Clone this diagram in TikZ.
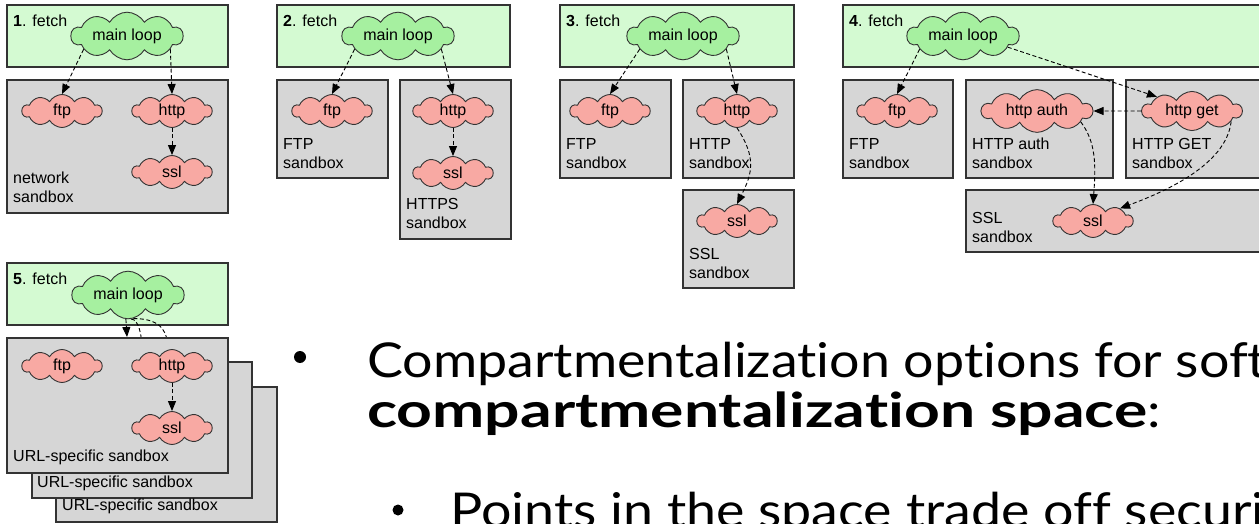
\documentclass[tikz,border=0pt]{standalone}
\usepackage{fontspec}
\setmainfont{Liberation Sans}
\newfontfamily\slidefont{Lato}[Ligatures={NoCommon,NoRare,NoContextual},FakeStretch=1.12]
\newfontfamily\slidebold{Lato}[Ligatures={NoCommon,NoRare,NoContextual},FakeStretch=1.3]
\usetikzlibrary{shapes.symbols,arrows.meta}
\definecolor{fetchgreen}{HTML}{D4FAD2}
\definecolor{loopgreen}{HTML}{A6F0A0}
\definecolor{compink}{HTML}{F8A9A3}
\definecolor{boxgray}{HTML}{D6D6D6}
\definecolor{edge}{HTML}{333333}
\begin{document}
\begin{tikzpicture}[x=1pt,y=-1pt,
  fetchbox/.style={draw=edge,fill=fetchgreen,line width=1.2pt},
  sandbox/.style={draw=edge,fill=boxgray,line width=1.2pt},
  puff/.style={cloud,cloud puffs=10,cloud puff arc=120,aspect=2.25,draw=edge,
    line width=0.9pt,inner sep=0pt,minimum width=80,minimum height=33,
    font=\fontsize{16}{19}\selectfont},
  component/.style={puff,fill=compink},
  mainloop/.style={puff,fill=loopgreen,minimum width=112,minimum height=34,aspect=3.1},
  lbl/.style={anchor=base west,align=left,inner sep=0pt,font=\fontsize{16}{19}\selectfont},
  call/.style={draw=black,line width=0.9pt,dash pattern=on 4pt off 2.5pt,
    -{Triangle[length=10pt,width=8pt]}},
  plain call/.style={draw=black,line width=0.9pt,dash pattern=on 4pt off 2.5pt},
  dot/.style={circle,fill=black,inner sep=0pt,minimum size=12},
  slide/.style={anchor=base west,inner sep=0pt,font=\slidefont\fontsize{48}{50}\selectfont}
]
\useasboundingbox (0,0) rectangle (1259,524);
\clip (0,0) rectangle (1259,524);

% ---------- 1. one network sandbox ----------
\path[fetchbox] (7,5) rectangle (228,67);
\path[sandbox] (7,80) rectangle (228,213);
\node[lbl] (f1) at (13,27) {\textbf{1}. fetch};
\node[lbl] (s1) at (13,203) {network\\sandbox};
\node[mainloop] (ml1) at (127,36) {main loop};
\node[component] (ftp1) at (62,111) {ftp};
\node[component] (http1) at (172,111) {http};
\node[component] (ssl1) at (172,172) {ssl};
\draw[call] (ml1.197) -- (ftp1.north);
\draw[call] (ml1.343) -- (http1.north);
\draw[call] (http1.south) -- (ssl1.north);

% ---------- 2. FTP and HTTPS sandboxes ----------
\path[fetchbox] (277,5) rectangle (510,67);
\path[sandbox] (277,80) rectangle (388,178);
\path[sandbox] (400,80) rectangle (511,239);
\node[lbl] (f2) at (283,27) {\textbf{2}. fetch};
\node[lbl] (s2a) at (283,168) {FTP\\sandbox};
\node[lbl] (s2b) at (406,228) {HTTPS\\sandbox};
\node[mainloop] (ml2) at (398,36) {main loop};
\node[component] (ftp2) at (332,111) {ftp};
\node[component] (http2) at (453,111) {http};
\node[component] (ssl2) at (453,173) {ssl};
\draw[call] (ml2.197) -- (ftp2.north);
\draw[call] (ml2.343) -- (http2.north);
\draw[call] (http2.south) -- (ssl2.north);

% ---------- 3. FTP, HTTP and SSL sandboxes ----------
\path[fetchbox] (560,5) rectangle (794,67);
\path[sandbox] (560,80) rectangle (671,178);
\path[sandbox] (683,80) rectangle (794,178);
\path[sandbox] (683,190) rectangle (794,288);
\node[lbl] (f3) at (566,27) {\textbf{3}. fetch};
\node[lbl] (s3a) at (566,168) {FTP\\sandbox};
\node[lbl] (s3b) at (689,168) {HTTP\\sandbox};
\node[lbl] (s3c) at (689,278) {SSL\\sandbox};
\node[mainloop] (ml3) at (683,36) {main loop};
\node[component] (ftp3) at (610,111) {ftp};
\node[component] (http3) at (737,111) {http};
\node[component] (ssl3) at (737,221) {ssl};
\draw[call] (ml3.197) -- (ftp3.north);
\draw[call] (ml3.343) -- (http3.north);
\draw[call] (http3.south) .. controls +(20,30) and +(15,-30) .. (ssl3.north);

% ---------- 4. HTTP split into auth and GET ----------
\path[fetchbox] (843,5) rectangle (1265,67);
\path[sandbox] (843,80) rectangle (953,178);
\path[sandbox] (966,80) rectangle (1113,178);
\path[sandbox] (1126,80) rectangle (1265,178);
\path[sandbox] (966,190) rectangle (1265,252);
\node[lbl] (f4) at (849,27) {\textbf{4}. fetch};
\node[lbl] (s4a) at (849,168) {FTP\\sandbox};
\node[lbl] (s4b) at (972,168) {HTTP auth\\sandbox};
\node[lbl] (s4c) at (1132,168) {HTTP GET\\sandbox};
\node[lbl] (s4d) at (972,242) {SSL\\sandbox};
\node[mainloop] (ml4) at (963,36) {main loop};
\node[component] (ftp4) at (897,111) {ftp};
\node[component,minimum width=111,aspect=3.1] (hauth) at (1037,111) {http auth};
\node[component,minimum width=100,aspect=2.8] (hget) at (1192,111) {http get};
\node[component] (ssl4) at (1093,221) {ssl};
\draw[call] (ml4.197) -- (ftp4.north);
\draw[call] (ml4.346) -- (hget.158);
\draw[call] (hget.west) -- (hauth.east);
\draw[call] (hauth.346) .. controls +(15,20) and +(3,-40) .. (ssl4.north);
\draw[call] (hget.345) .. controls +(-5,45) and +(40,-15) .. (ssl4.25);

% ---------- 5. URL-specific sandboxes ----------
\path[fetchbox] (7,263) rectangle (228,325);
\node[lbl] (f5) at (13,284) {\textbf{5}. fetch};
\node[mainloop] (ml5) at (128,295) {main loop};
\coordinate (u5a) at (127,337);
\coordinate (u5b) at (142,350);
\coordinate (u5c) at (168,350);
\draw[plain call] (ml5.277) .. controls +(8,0) and +(0,-14) .. (u5b);
\draw[plain call] (ml5.283) .. controls +(30,0) and +(0,-16) .. (u5c);
\path[sandbox] (56,387) rectangle (277,522);
\path[sandbox] (32,362) rectangle (252,498);
\path[sandbox] (7,338) rectangle (228,473);
\node[lbl] (s5c) at (62,510) {URL-specific sandbox};
\node[lbl] (s5b) at (37,487) {URL-specific sandbox};
\node[lbl] (s5a) at (13,461) {URL-specific sandbox};
\node[component] (ftp5) at (62,366) {ftp};
\node[component] (http5) at (172,366) {http};
\node[component] (ssl5) at (172,428) {ssl};
\draw[call] (ml5.265) -- (u5a);
\draw[call] (http5.south) -- (ssl5.north);

% ---------- bullet text ----------
\node[dot] (b1) at (300,357) {};
\node[slide] (t1) at (367,377) {Compartmentalization options for software};
\node[slide] (t2) at (367,427) {\slidebold\bfseries compartmentalization space\slidefont\mdseries:};
\node[dot,minimum size=11] (b2) at (398,510) {};
\node[slide] (t3) at (450,527) {Points in the space trade off security};
\end{tikzpicture}
\end{document}
